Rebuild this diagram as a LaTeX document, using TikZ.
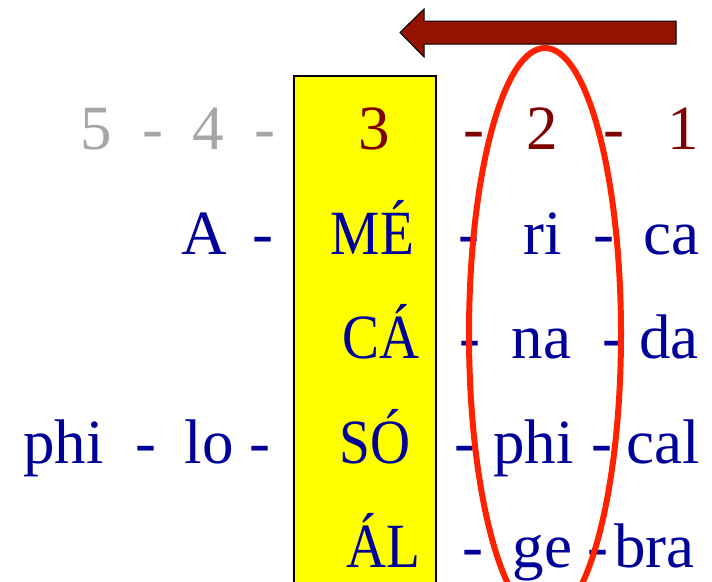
\documentclass[tikz,border=0pt]{standalone}
\usepackage{fontspec}
\setmainfont{Liberation Serif}
\newfontfamily\capfont[FakeStretch=0.88]{Liberation Serif}
\definecolor{syl}{HTML}{000099}
\definecolor{numred}{HTML}{800000}
\definecolor{numgrey}{HTML}{A6A6A6}
\definecolor{hiyellow}{HTML}{FFFF00}
\definecolor{arrowred}{HTML}{931300}
\definecolor{ringred}{HTML}{FF2200}
\begin{document}
\begin{tikzpicture}[x=1pt,y=-1pt,
  txt/.style={anchor=base,inner sep=0pt,font=\fontsize{63}{63}\selectfont},
  sy/.style={txt,text=syl},
  capsyl/.style={anchor=base,inner sep=0pt,text=syl,font=\capfont\fontsize{63}{63}\selectfont},
  nr/.style={txt,text=numred},
  ng/.style={txt,text=numgrey}]
\useasboundingbox (0,0) rectangle (712,581);
% highlighted column
\path[draw=black,line width=1.5pt,fill=hiyellow] (294,76) rectangle (436,600);
% row 1: syllable numbers
\node[ng] (n5) at (96,149) {5};
\node[ng] (d54) at (152.5,149) {-};
\node[ng] (n4) at (208,149) {4};
\node[ng] (d43) at (264.5,149) {-};
\node[nr] (n3) at (374,149) {3};
\node[nr] (d32) at (473.5,149) {-};
\node[nr] (n2) at (542.5,149) {2};
\node[nr] (d21) at (613.5,149) {-};
\node[nr] (n1) at (683.5,149) {1};
% row 2: A-MÉ-ri-ca
\node[sy] (a1) at (204,254) {A};
\node[sy] (a1d) at (262.5,254) {-};
\node[capsyl] (a2) at (372.5,254) {MÉ};
\node[sy] (a2d) at (469,254) {-};
\node[sy] (a3) at (543,254) {ri};
\node[sy] (a3d) at (604,254) {-};
\node[sy] (a4) at (671,254) {ca};
% row 3: CÁ-na-da
\node[capsyl] (c1) at (381,358) {CÁ};
\node[sy] (c1d) at (469.5,358) {-};
\node[sy] (c2) at (541.5,358) {na};
\node[sy] (c2d) at (612.5,358) {-};
\node[sy] (c3) at (669,358) {da};
% row 4: phi-lo-SÓ-phi-cal
\node[sy] (p1) at (63.5,463) {phi};
\node[sy] (p1d) at (145.5,463) {-};
\node[sy] (p2) at (209,463) {lo};
\node[sy] (p2d) at (259.5,463) {-};
\node[capsyl] (p3) at (375,463) {SÓ};
\node[sy] (p3d) at (465,463) {-};
\node[sy] (p4) at (533.5,463) {phi};
\node[sy] (p4d) at (601.5,463) {-};
\node[sy] (p5) at (663,463) {cal};
% row 5: ÁL-ge-bra
\node[capsyl] (g1) at (383,567) {ÁL};
\node[sy] (g1d) at (472.5,567) {-};
\node[sy] (g2) at (542.5,567) {ge};
\node[sy] (g2d) at (597.5,567) {-};
\node[sy] (g3) at (654.5,567) {bra};
% ring around the penultimate syllable
\draw[ringred,line width=6pt] (545,334) ellipse [x radius=76, y radius=286];
% direction arrow
\path[draw=black,line width=1pt,fill=arrowred]
  (676,21) -- (424,21) -- (424,9) -- (400,32.5) -- (424,57) -- (424,44) -- (676,44) -- cycle;
\end{tikzpicture}
\end{document}
